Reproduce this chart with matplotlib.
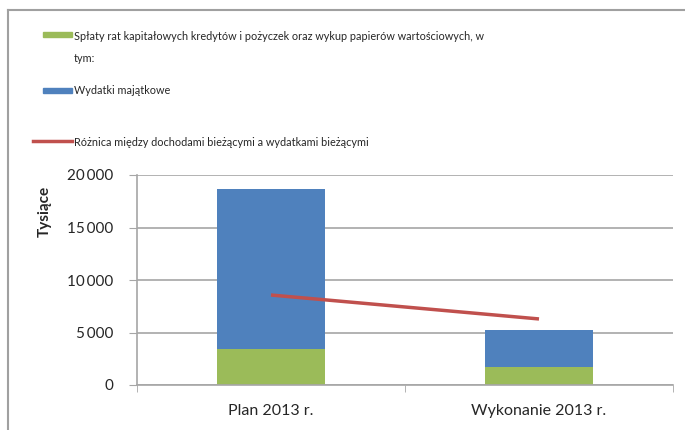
import numpy as np
import matplotlib.pyplot as plt
from matplotlib.lines import Line2D
from matplotlib.patches import Rectangle
from matplotlib.ticker import FuncFormatter

plt.rcParams['font.family'] = ['Lato', 'DejaVu Sans']

# data (thousands)
categories = ['Plan 2013 r.', 'Wykonanie 2013 r.']
splaty = [3430, 1750]
majatkowe = [15210, 3490]
roznica = [8570, 6290]

labels = ['Spłaty rat kapitałowych kredytów i pożyczek oraz wykup papierów wartościowych, w\ntym:',
          'Wydatki majątkowe',
          'Różnica między dochodami bieżącymi a wydatkami bieżącymi']

GREEN = '#9BBB59'
BLUE = '#4F81BD'
RED = '#C0504D'
GRID = '#A6A6A6'
TXT = '#262626'

W, H = 685, 430
fig = plt.figure(figsize=(W / 100, H / 100), dpi=100)
ax = fig.add_axes([137 / W, 1 - 385 / H, 536 / W, 210 / H])

x = np.arange(len(categories))
ax.bar(x, splaty, width=0.4, color=GREEN, zorder=2)
ax.bar(x, majatkowe, width=0.4, bottom=splaty, color=BLUE, zorder=2)
ax.plot(x, roznica, color=RED, lw=2.5, zorder=3, solid_capstyle='butt')

ax.set_xlim(-0.5, 1.5)
ax.set_ylim(0, 20000)
ax.set_yticks(np.arange(0, 20001, 5000))
ax.yaxis.set_major_formatter(FuncFormatter(lambda v, p: f'{int(v):,}'.replace(',', '\u2009')))
ax.set_xticks(x)
ax.set_xticklabels(categories, fontsize=11.5, color=TXT)
ax.set_xticks([-0.5, 0.5, 1.5], minor=True)
ax.tick_params(axis='x', which='major', length=0, pad=14)
ax.tick_params(axis='x', which='minor', length=5, color=GRID, direction='out')
ax.tick_params(axis='y', length=6, color=GRID, labelsize=11, labelcolor=TXT, pad=11)
ax.grid(axis='y', color=GRID, lw=1.2, zorder=0)
for s in ['top', 'right']:
    ax.spines[s].set_visible(False)
ax.spines['left'].set_color(GRID)
ax.spines['bottom'].set_color(GRID)
ax.spines['left'].set_linewidth(1.2)
ax.spines['bottom'].set_linewidth(1.2)

fig.text(45 / W, 1 - 211 / H, 'Tysiące', rotation=90, fontsize=11, fontweight='bold',
         ha='center', va='center', color=TXT)

# legend drawn by hand
def fy(py):
    return 1 - py / H

fig.patches.append(Rectangle((43 / W, fy(37)), 29 / W, 5 / H, color=GREEN, transform=fig.transFigure))
fig.patches.append(Rectangle((43 / W, fy(93)), 29 / W, 5 / H, color=BLUE, transform=fig.transFigure))
fig.lines.append(Line2D([33 / W, 72 / W], [fy(141), fy(141)], color=RED, lw=2.5, transform=fig.transFigure))
first, second = labels[0].split('\n')
fig.text(74 / W, fy(36), first, fontsize=7.8, va='center', color=TXT)
fig.text(74 / W, fy(59), second, fontsize=7.8, va='center', color=TXT)
fig.text(74 / W, fy(90), labels[1], fontsize=7.8, va='center', color=TXT)
fig.text(74 / W, fy(142), labels[2], fontsize=7.8, va='center', color=TXT)

# outer frame
fig.lines.append(Line2D([8 / W, 8 / W], [0, fy(10)], color='#A0A0A0', lw=1.5, transform=fig.transFigure))
fig.lines.append(Line2D([8 / W, 1], [fy(10), fy(10)], color='#A0A0A0', lw=1.5, transform=fig.transFigure))

fig.savefig('out.png', dpi=100)
